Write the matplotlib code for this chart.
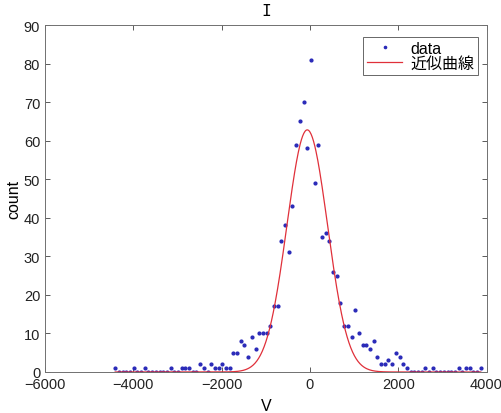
import numpy as np
import matplotlib.pyplot as plt

# histogram bin centres (100 bins) and counts
n_bins = 100
v_first = -4410
v_last = 3870
counts = [
    1, 0, 0, 0, 0, 1, 0, 0, 1, 0,
    0, 0, 0, 0, 0, 1, 0, 0, 1, 1,
    1, 0, 0, 2, 1, 0, 2, 1, 1, 2,
    1, 1, 5, 5, 8, 7, 4, 9, 6, 10,
    10, 10, 12, 17, 17, 34, 38, 31, 43, 59,
    65, 70, 58, 81, 49, 59, 35, 36, 34, 26,
    25, 18, 12, 12, 9, 16, 10, 7, 7, 6,
    8, 4, 2, 2, 3, 2, 5, 4, 2, 1,
    0, 0, 0, 0, 1, 0, 1, 0, 0, 0,
    0, 0, 0, 1, 0, 1, 1, 0, 0, 1,
]

# gauss1 fit: a*exp(-((x-b)/c)^2)
fit_a = 62.8
fit_b = -60.0
fit_c = 650.0

v = np.linspace(v_first, v_last, n_bins)
counts = np.array(counts)

xf = np.linspace(v_first, v_last, 600)
yf = fit_a * np.exp(-((xf - fit_b) / fit_c) ** 2)

plt.rcParams['font.family'] = ['Liberation Sans', 'Noto Sans CJK JP', 'DejaVu Sans']

fig = plt.figure(figsize=(5.01, 4.14), dpi=100)
ax = fig.add_axes([45 / 501, 41 / 414, 441.5 / 501, 347 / 414])

ax.plot(v, counts, '.', color='#2a2ab8', markersize=4, label='data')
ax.plot(xf, yf, '-', color='#e0303a', linewidth=0.9, label='近似曲線')

ax.set_xlim(-6000, 4000)
ax.set_ylim(0, 90)
ax.set_xticks(np.arange(-6000, 4001, 2000))
ax.set_yticks(np.arange(0, 91, 10))

ax.tick_params(direction='in', top=True, right=True, length=3.5,
               width=0.6, colors='#404040', labelcolor='#222222', labelsize=10.5)
for s in ax.spines.values():
    s.set_color('#707070')
    s.set_linewidth(0.7)

ax.set_xlabel('V', fontsize=11.5, labelpad=5)
ax.set_ylabel('count', fontsize=11.5, labelpad=2)
ax.set_title('I', fontsize=11.5, family='DejaVu Sans Mono', pad=7)

leg = ax.legend(loc='upper right', fontsize=11.5, fancybox=False,
                edgecolor='#404040', handlelength=2.2, borderpad=0.25,
                labelspacing=0.0, handletextpad=0.5, markerscale=0.8,
                borderaxespad=0, bbox_to_anchor=(0.981, 0.966))
leg.get_frame().set_linewidth(0.7)

fig.savefig('out.png', dpi=100)
